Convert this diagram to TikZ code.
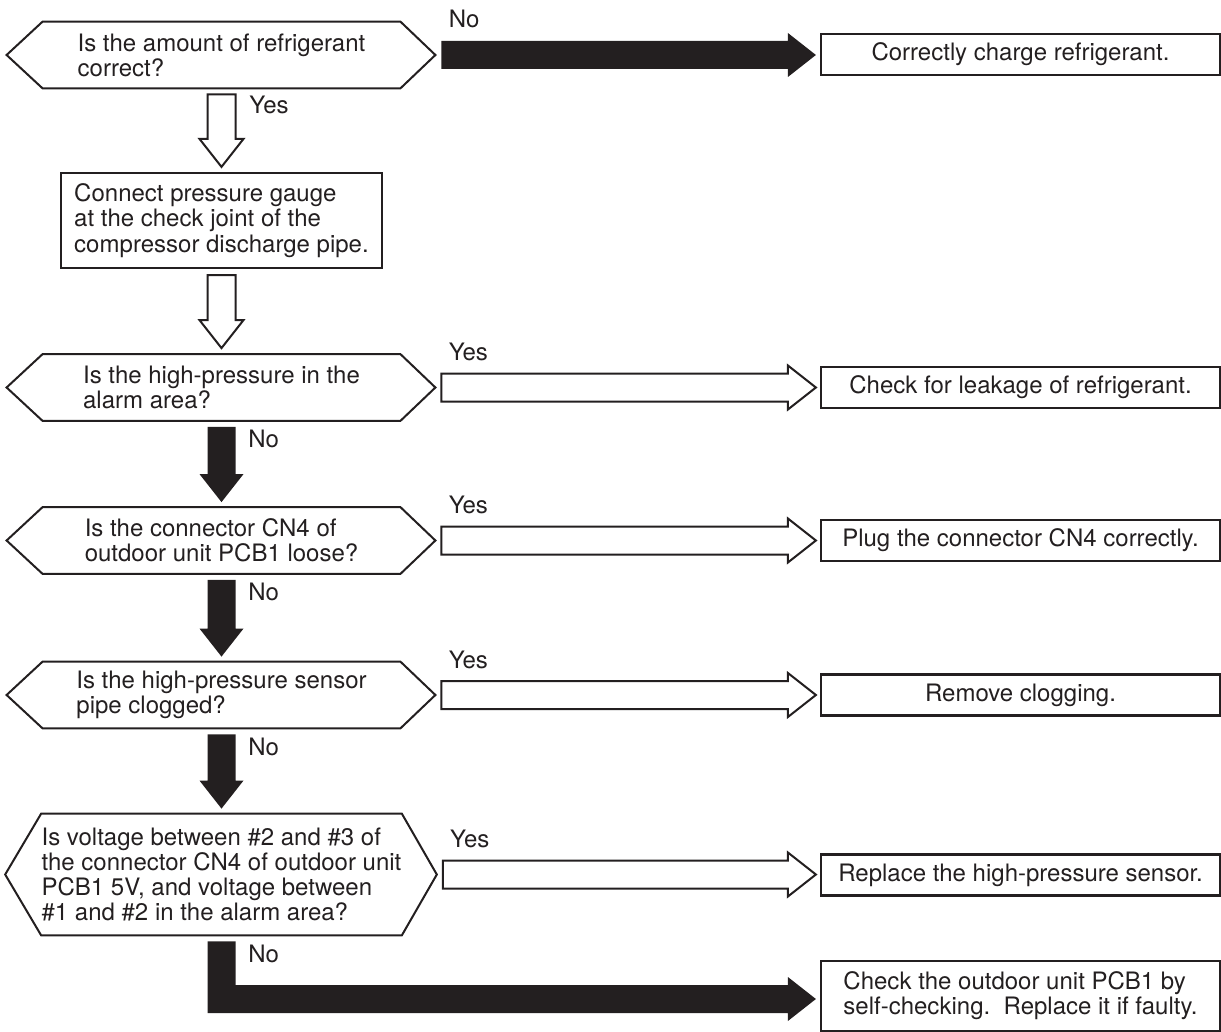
\documentclass[tikz,border=0pt]{standalone}
\usepackage{fontspec}
\setmainfont{TeX Gyre Heros}
\usetikzlibrary{calc,positioning}
\definecolor{ink}{HTML}{231F20}
% block arrows, drawn as outlines between two points
\newcommand{\vblock}[3]{%
  \path[#1] let \p1=(#2), \p2=(#3) in
    (\x1-7pt,\y1) -- (\x1+7pt,\y1) -- (\x1+7pt,\y2+14pt) -- (\x1+11pt,\y2+14pt)
    -- (\x1,\y2) -- (\x1-11pt,\y2+14pt) -- (\x1-7pt,\y2+14pt) -- cycle;}
\newcommand{\hblock}[3]{%
  \path[#1] let \p1=(#2), \p2=(#3) in
    (\x1,\y1+7pt) -- (\x2-14pt,\y1+7pt) -- (\x2-14pt,\y1+11pt) -- (\x2,\y1)
    -- (\x2-14pt,\y1-11pt) -- (\x2-14pt,\y1-7pt) -- (\x1,\y1-7pt) -- cycle;}
\tikzset{
  ask/.style={inner sep=0pt,minimum width=178.5pt,minimum height=33pt,align=left},
  fix/.style={draw=ink,line width=1.1pt,inner sep=0pt,minimum width=199.5pt,
              minimum height=20.5pt,align=center},
  stepbox/.style={fix,minimum width=160.5pt,minimum height=47.5pt,align=left},
  outline/.style={draw=ink,line width=1pt,line join=miter},
  hollow/.style={draw=ink,fill=white,line width=1pt,line join=miter},
  blackarr/.style={fill=ink},
  lbl/.style={inner sep=0pt,anchor=base west},
}
\begin{document}
\begin{tikzpicture}[x=0.5pt,y=-0.5pt,font=\fontsize{12}{12.6}\selectfont,text=ink]
  \useasboundingbox (0,0) rectangle (1221,1032);

  % questions
  \node[ask] at (221.5,55) (q1) {Is the amount of refrigerant\\correct?};
  \node[stepbox] at (221.5,220.5) (gauge)
      {Connect pressure gauge\\at the check joint of the\\compressor discharge pipe.};
  \node[ask] at (221.5,387.5) (q2) {Is the high-pressure in the\\alarm area?};
  \node[ask] at (221.5,540.5) (q3) {Is the connector CN4 of\\outdoor unit PCB1 loose?};
  \node[ask] at (221.5,695) (q4) {Is the high-pressure sensor\\pipe clogged?};
  \node[ask,minimum height=60.5pt] at (221.5,874.5) (q5)
      {Is voltage between \#2 and \#3 of\\the connector CN4 of outdoor unit\\PCB1 5V, and voltage between\\\#1 and \#2 in the alarm area?};

  \foreach \q in {q1,q2,q3,q4,q5} {
    \coordinate (\q-r) at ([xshift=17.5pt]\q.east);
    \coordinate (\q-l) at ([xshift=-18pt]\q.west);
    \draw[outline] (\q.north west) -- (\q.north east) -- (\q-r)
      -- (\q.south east) -- (\q.south west) -- (\q-l) -- cycle;
  }

  % remedies
  \node[fix] at (1020.5,54.5) (r1) {Correctly charge refrigerant.};
  \node[fix] at (1020.5,387.5) (r2) {Check for leakage of refrigerant.};
  \node[fix] at (1020.5,540.5) (r3) {Plug the connector CN4 correctly.};
  \node[fix] at (1020.5,695) (r4) {Remove clogging.};
  \node[fix] at (1020.5,875) (r5) {Replace the high-pressure sensor.};
  \node[fix,minimum height=35pt,align=left] at (1020.5,996) (r6)
      {Check the outdoor unit PCB1 by\\self-checking.\ \ Replace it if faulty.};

  % arrows
  \hblock{blackarr}{[xshift=3pt]q1-r}{[xshift=-2pt]r1.west}
  \node[lbl] (no1) at ([shift={(6.5pt,13.5pt)}]q1-r) {No};
  \vblock{hollow}{[yshift=-3pt]q1.south}{[yshift=2.5pt]gauge.north}
  \node[lbl] (yes1) at ([shift={(13.75pt,-12.5pt)}]q1.south) {Yes};
  \vblock{hollow}{[yshift=-3pt]gauge.south}{[yshift=3pt]q2.north}

  \foreach \i in {2,...,5} {
    \hblock{hollow}{[xshift=3pt]q\i-r}{[xshift=-2pt]r\i.west}
    \node[lbl] (yes\i) at ([shift={(6.5pt,13.5pt)}]q\i-r) {Yes};
  }
  \foreach \a/\b in {2/3,3/4,4/5} {
    \vblock{blackarr}{[yshift=-3pt]q\a.south}{[yshift=2.5pt]q\b.north}
    \node[lbl] (no\a) at ([shift={(13.25pt,-13.5pt)}]q\a.south) {No};
  }

  \path[blackarr] let \p1=([yshift=-3pt]q5.south), \p2=([shift={(-2pt,-1.5pt)}]r6.west) in
    (\x1-7pt,\y1) -- (\x1+7pt,\y1) -- (\x1+7pt,\y2+7pt) -- (\x2-14pt,\y2+7pt)
    -- (\x2-14pt,\y2+11pt) -- (\x2,\y2) -- (\x2-14pt,\y2-11pt)
    -- (\x2-14pt,\y2-7pt) -- (\x1-7pt,\y2-7pt) -- cycle;
  \node[lbl] (no5) at ([shift={(13.25pt,-13.5pt)}]q5.south) {No};
\end{tikzpicture}
\end{document}
